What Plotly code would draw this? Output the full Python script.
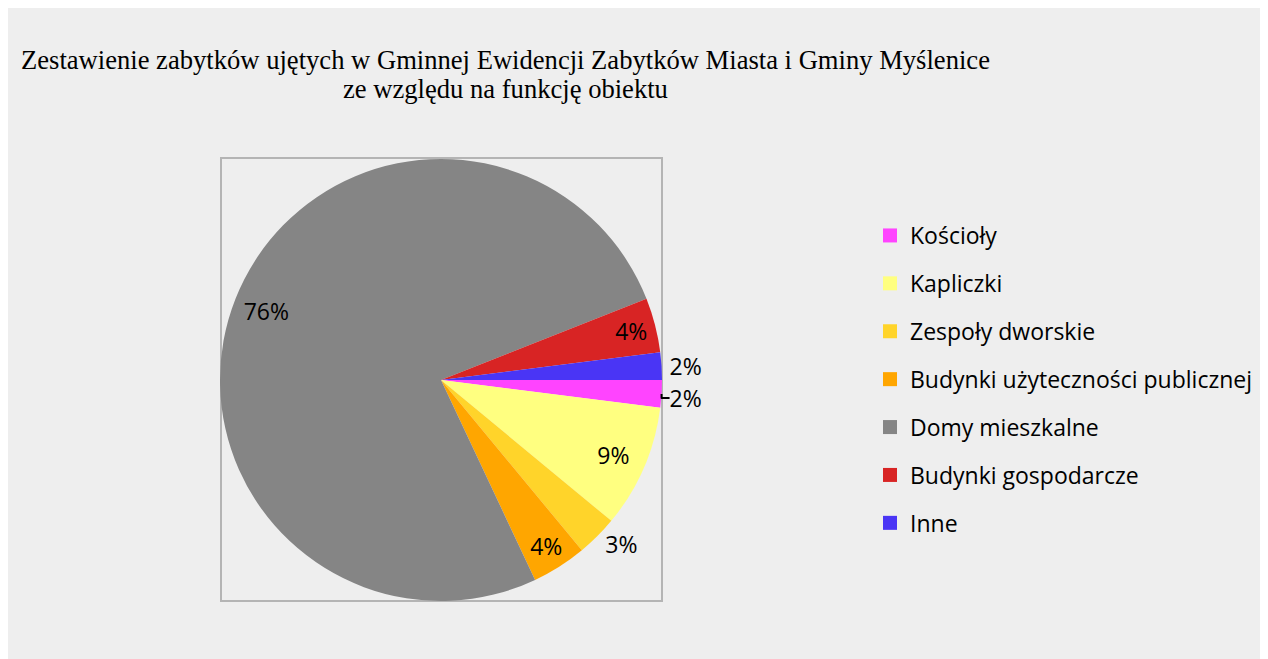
import plotly.graph_objects as go

categories = ["Kościoły", "Kapliczki", "Zespoły dworskie", "Budynki użyteczności publicznej",
              "Domy mieszkalne", "Budynki gospodarcze", "Inne"]
values = [2, 9, 3, 4, 76, 4, 2]
colors = ["#ff44ff", "#ffff80", "#ffd42a", "#ffa600", "#858585", "#d82424", "#4a35f5"]
text_pos = ["outside", "inside", "outside", "inside", "inside", "inside", "outside"]

title_lines = ["Zestawienie zabytków ujętych w Gminnej Ewidencji Zabytków Miasta i Gminy Myślenice",
               "ze względu na funkcję obiektu"]

W, H = 1268, 651
OFF = 8  # browser body margin
LABEL_FONT = "Open Sans"


def px(x):
    return (x - OFF) / W


def py(y):
    return 1 - (y - OFF) / H


pie_domain = dict(x=[px(220), px(662)], y=[py(601), py(159)])

fig = go.Figure()
# coloured slices
fig.add_trace(go.Pie(
    labels=categories, values=values, sort=False, direction="clockwise", rotation=90,
    marker=dict(colors=colors, line=dict(width=0)),
    textinfo="none", showlegend=False, hoverinfo="label+percent",
    domain=pie_domain,
))
# transparent ring used only to place the percentage labels further out
fig.add_trace(go.Pie(
    labels=categories, values=values, sort=False, direction="clockwise", rotation=90,
    hole=0.7,
    marker=dict(colors=["rgba(0,0,0,0)"] * len(values), line=dict(width=0)),
    textinfo="percent", texttemplate="%{percent:.0%}",
    textposition=text_pos, insidetextorientation="horizontal",
    textfont=dict(family=LABEL_FONT, size=23, color="black"),
    showlegend=False, hoverinfo="skip",
    domain=pie_domain,
))

for i, (c, col) in enumerate(zip(categories, colors)):
    fig.add_trace(go.Scatter(
        x=[None], y=[None], mode="markers", name=c, legendgroup=f"g{i}",
        marker=dict(symbol="square", size=14, color=col),
        showlegend=True,
    ))

fig.add_shape(type="rect", xref="paper", yref="paper",
              x0=px(221), x1=px(662), y0=py(601), y1=py(158),
              line=dict(color="#b4b4b4", width=2), layer="below")

for line, yc in zip(title_lines, [60, 89]):
    fig.add_annotation(text=line, x=px(505), y=py(yc), xref="paper", yref="paper",
                       xanchor="center", yanchor="middle", showarrow=False,
                       font=dict(family="Liberation Serif", size=26.6, color="black"))

fig.update_layout(
    width=W, height=H, autosize=False,
    margin=dict(l=0, r=0, t=0, b=0),
    paper_bgcolor="#eeeeee", plot_bgcolor="#eeeeee",
    xaxis=dict(visible=False), yaxis=dict(visible=False),
    legend=dict(x=px(870), y=py(214), xanchor="left", yanchor="top",
                tracegroupgap=15, bgcolor="rgba(0,0,0,0)",
                font=dict(family=LABEL_FONT, size=23, color="black")),
    hovermode=False,
)

fig.write_html("out.html")
